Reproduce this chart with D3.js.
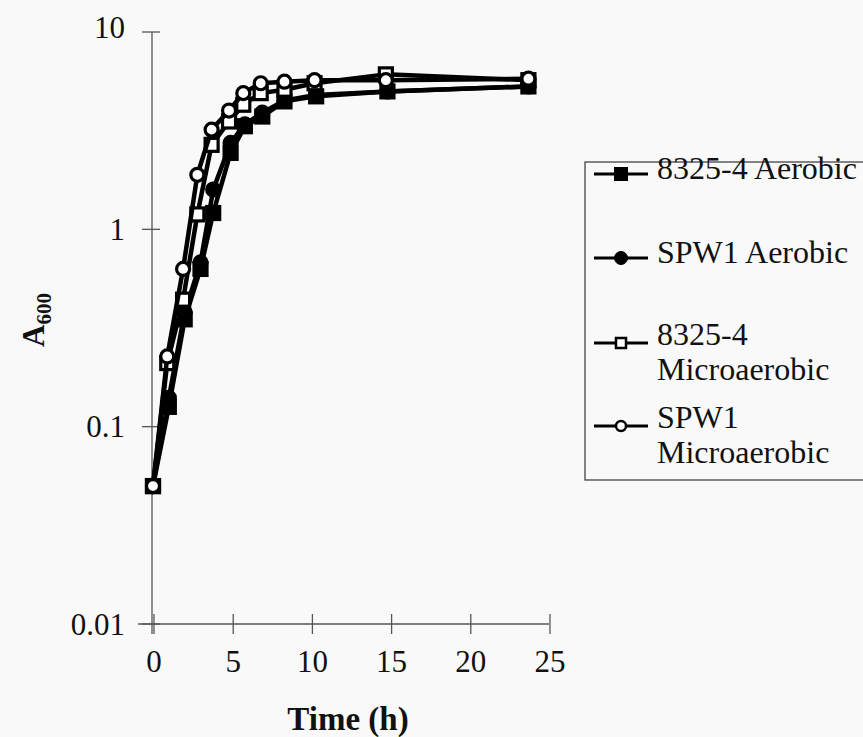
<!DOCTYPE html>
<html>
<head>
<meta charset="utf-8">
<script src="https://cdn.jsdelivr.net/npm/d3@7"></script>
<style>
  html, body { margin: 0; padding: 0; background: #f9f9f9; }
  svg { display: block; font-family: "Liberation Serif", "Times New Roman", serif; }
</style>
</head>
<body>
<div id="chart"></div>
<script>
(function () {
  // sampling times (h)
  const timesMicro = [0, 0.9, 1.9, 2.8, 3.7, 4.8, 5.7, 6.8, 8.3, 10.2, 14.7, 23.7];
  const timesAero = [0, 1.0, 2.0, 3.0, 3.8, 4.9, 5.8, 6.9, 8.3, 10.3, 14.8, 23.7];

  // A600 values
  const aerobic8325 = [0.05, 0.126, 0.35, 0.63, 1.21, 2.44, 3.33, 3.73, 4.45, 4.72, 5.0, 5.3];
  const aerobicSPW1 = [0.05, 0.14, 0.38, 0.68, 1.59, 2.74, 3.4, 3.9, 4.5, 4.8, 5.0, 5.3];
  const micro8325 = [0.05, 0.21, 0.44, 1.19, 2.68, 3.52, 4.28, 4.9, 5.1, 5.5, 6.1, 5.7];
  const microSPW1 = [0.05, 0.227, 0.63, 1.89, 3.2, 4.0, 4.9, 5.5, 5.6, 5.7, 5.7, 5.8];

  const xTicks = [0, 5, 10, 15, 20, 25];
  const yTicks = [0.01, 0.1, 1, 10];
  const yTickLabels = ["0.01", "0.1", "1", "10"];

  const series = [
    { name: ["8325-4 Aerobic"], t: timesAero, v: aerobic8325, shape: "square", fill: true },
    { name: ["SPW1 Aerobic"], t: timesAero, v: aerobicSPW1, shape: "circle", fill: true },
    { name: ["8325-4", "Microaerobic"], t: timesMicro, v: micro8325, shape: "square", fill: false },
    { name: ["SPW1", "Microaerobic"], t: timesMicro, v: microSPW1, shape: "circle", fill: false }
  ];

  const W = 863, H = 737;
  const svg = d3.select("#chart").append("svg")
    .attr("width", W)
    .attr("height", H);

  const x = d3.scaleLinear().domain([0, 25]).range([153, 549]);
  const y = d3.scaleLog().domain([0.01, 10]).range([624, 32]);
  const axisX = 152;

  // axes (ticks cross the axis line)
  const axisColor = "#555";
  svg.append("line")
    .attr("x1", axisX).attr("x2", axisX)
    .attr("y1", y(10)).attr("y2", y(0.01) + 10)
    .attr("stroke", axisColor).attr("stroke-width", 1.3);
  svg.append("line")
    .attr("x1", axisX - 14).attr("x2", x(25))
    .attr("y1", y(0.01)).attr("y2", y(0.01))
    .attr("stroke", axisColor).attr("stroke-width", 1.3);

  svg.selectAll(".ytick").data(yTicks).enter().append("line")
    .attr("x1", axisX - 10).attr("x2", axisX + 8)
    .attr("y1", d => y(d)).attr("y2", d => y(d))
    .attr("stroke", axisColor).attr("stroke-width", 1.3);
  svg.selectAll(".ylab").data(yTicks).enter().append("text")
    .attr("x", 125)
    .attr("y", d => y(d))
    .attr("dy", d => d === 10 ? "0.2em" : "0.34em")
    .attr("text-anchor", "end")
    .attr("font-size", 31)
    .attr("fill", "#111")
    .text((d, i) => yTickLabels[i]);

  svg.selectAll(".xtick").data(xTicks).enter().append("line")
    .attr("x1", d => x(d) + 1).attr("x2", d => x(d) + 1)
    .attr("y1", y(0.01) - 10).attr("y2", y(0.01) + 10)
    .attr("stroke", axisColor).attr("stroke-width", 1.3);
  svg.selectAll(".xlab").data(xTicks).enter().append("text")
    .attr("x", d => x(d) + 1)
    .attr("y", 672)
    .attr("text-anchor", "middle")
    .attr("font-size", 31)
    .attr("fill", "#111")
    .text(d => d);

  // axis titles
  svg.append("text")
    .attr("x", 348).attr("y", 730)
    .attr("text-anchor", "middle")
    .attr("font-size", 33)
    .attr("font-weight", "bold")
    .attr("fill", "#111")
    .text("Time (h)");

  const yt = svg.append("text")
    .attr("transform", "translate(44,320) rotate(-90)")
    .attr("text-anchor", "middle")
    .attr("font-size", 31)
    .attr("font-weight", "bold")
    .attr("fill", "#111");
  yt.append("tspan").text("A");
  yt.append("tspan").attr("font-size", 21).attr("dy", 7).text("600");

  // series: lines then markers
  const line = d3.line().x(d => x(d[0])).y(d => y(d[1]));

  function marker(g, shape, fill, cx, cy, size, sw) {
    if (shape === "square") {
      g.append("rect")
        .attr("x", cx - size / 2).attr("y", cy - size / 2)
        .attr("width", size).attr("height", size)
        .attr("fill", fill ? "#000" : "#fff")
        .attr("stroke", "#000").attr("stroke-width", sw);
    } else {
      g.append("circle")
        .attr("cx", cx).attr("cy", cy).attr("r", size / 2)
        .attr("fill", fill ? "#000" : "#fff")
        .attr("stroke", "#000").attr("stroke-width", sw);
    }
  }

  series.forEach(s => {
    const pts = s.t.map((t, i) => [t, s.v[i]]);
    const g = svg.append("g");
    g.append("path")
      .attr("d", line(pts))
      .attr("fill", "none")
      .attr("stroke", "#000")
      .attr("stroke-width", 4.5)
      .attr("stroke-linejoin", "round");
    pts.forEach(p => marker(g, s.shape, s.fill, x(p[0]), y(p[1]), 13, 3.2));
  });

  // legend
  const lg = svg.append("g");
  lg.append("rect")
    .attr("x", 585).attr("y", 162)
    .attr("width", 300).attr("height", 318)
    .attr("fill", "#f9f9f9")
    .attr("stroke", "#444").attr("stroke-width", 1.3);

  const legY = [174, 258, 343, 426];
  series.forEach((s, i) => {
    const ly = legY[i];
    lg.append("line")
      .attr("x1", 594).attr("x2", 648)
      .attr("y1", ly).attr("y2", ly)
      .attr("stroke", "#000").attr("stroke-width", 3);
    marker(lg, s.shape, s.fill, 621, ly, s.fill ? 13 : 10, s.fill ? 1 : 2.5);
    s.name.forEach((nm, j) => {
      lg.append("text")
        .attr("x", 657)
        .attr("y", ly + 5 + j * 35 - (s.name.length > 1 ? 3 : 0))
        .attr("font-size", 32)
        .attr("fill", "#111")
        .text(nm);
    });
  });
})();
</script>
</body>
</html>
